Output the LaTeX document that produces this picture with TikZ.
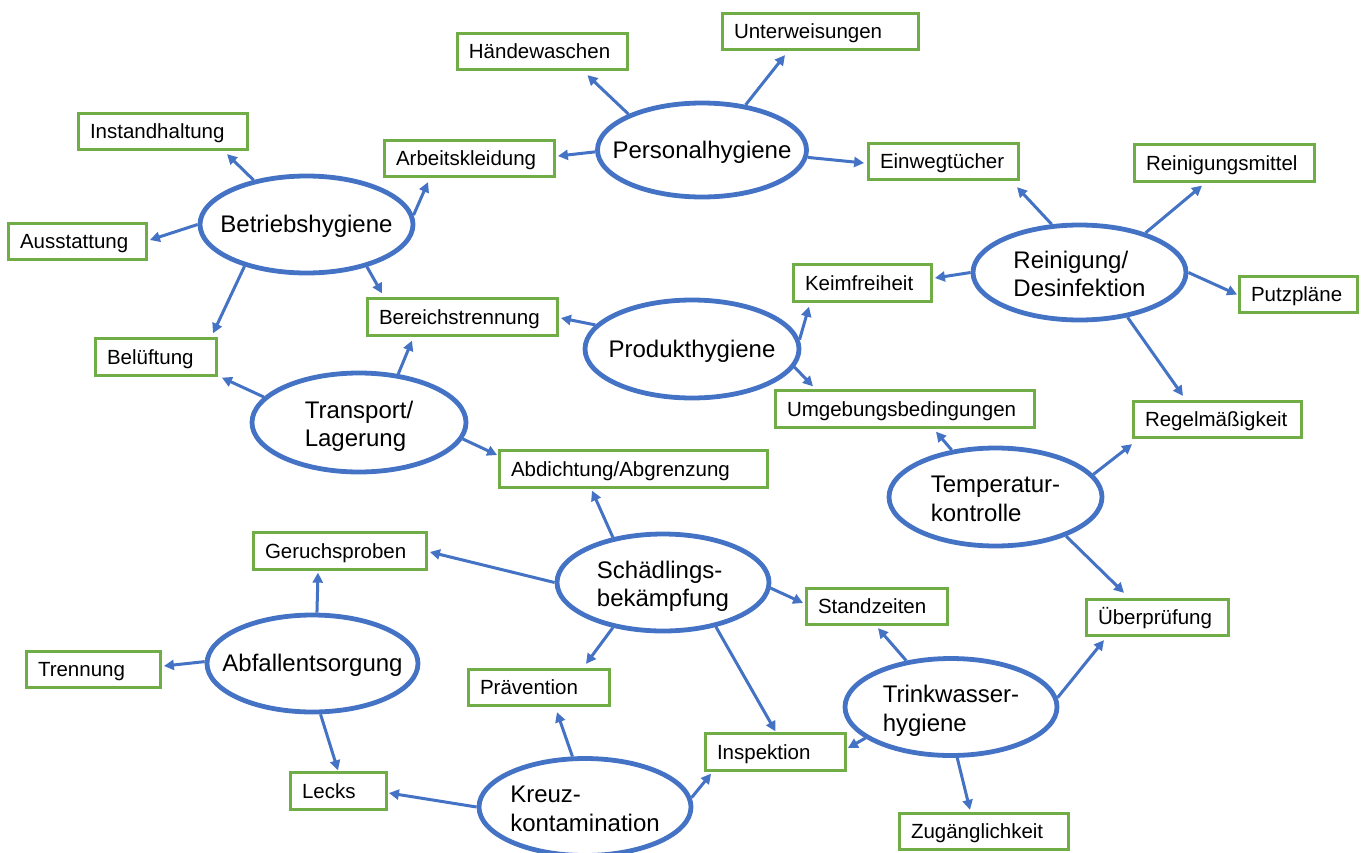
\documentclass[tikz,border=0pt]{standalone}
\usepackage{fontspec}
\setmainfont{Liberation Sans}
\usetikzlibrary{shapes.geometric,arrows.meta}
\definecolor{eblue}{HTML}{4472C4}
\definecolor{bgreen}{HTML}{70AD47}
\begin{document}
\begin{tikzpicture}[x=1pt,y=-1pt,
  ell/.style={ellipse, draw=eblue, line width=4.8pt, fill=white, inner sep=-60pt, align=left,
    font=\fontsize{24}{28.5}\selectfont},
  ellone/.style={ell, text height=20pt, text depth=4pt},
  elltwo/.style={ell, text height=50pt, text depth=2pt},
  box/.style={draw=bgreen, line width=2.8pt, fill=white, minimum height=36.5pt, inner xsep=11.5pt,
    inner ysep=0pt, text height=18pt, text depth=4pt, align=left,
    font=\fontsize{20.5}{24}\selectfont,
    execute at begin node={\hyphenpenalty=10000\exhyphenpenalty=10000}},
  arr/.style={draw=eblue, line width=3pt, -{Triangle[length=10pt,width=10pt]}}]
\useasboundingbox (0,0) rectangle (1363,852);
\fill[white] (0,0) rectangle (1363,852);

% ellipses
\node[ellone, minimum width=209pt, minimum height=94pt] (ph) at (702,150) {Personalhygiene};
\node[ellone, minimum width=213pt, minimum height=97pt] (bh) at (306.5,224.5) {Betriebshygiene};
\node[elltwo, minimum width=213pt, minimum height=95pt] (rd) at (1079.5,272.5) {Reinigung/\\Desinfektion};
\node[ellone, minimum width=214pt, minimum height=98pt] (pd) at (692,349) {Produkthygiene};
\node[elltwo, minimum width=214pt, minimum height=99pt] (tl) at (359,422.5) {Transport/\\Lagerung};
\node[elltwo, minimum width=213pt, minimum height=98pt] (tk) at (995.5,497) {Temperatur-\\kontrolle};
\node[elltwo, minimum width=212pt, minimum height=97pt] (sb) at (663,582.5) {Schädlings-\\bekämpfung};
\node[ellone, minimum width=211pt, minimum height=97pt] (ae) at (312.5,663.5) {Abfallentsorgung};
\node[elltwo, minimum width=212pt, minimum height=97pt] (tw) at (951,707) {Trinkwasser-\\hygiene};
\node[elltwo, minimum width=212pt, minimum height=97pt] (kk) at (585,807) {Kreuz-\\kontamination};

% boxes
\node[box, text width=147pt] (hw) at (542.4,51.5) {Händewaschen};
\node[box, text width=173pt] (uw) at (820.5,31.5) {Unterweisungen};
\node[box, text width=146pt] (ih) at (163,131.5) {Instandhaltung};
\node[box, text width=147pt] (ak) at (469.5,158.5) {Arbeitskleidung};
\node[box, text width=127pt] (ew) at (943.5,161.5) {Einwegtücher};
\node[box, text width=157pt] (rm) at (1224.5,163) {Reinigungsmittel};
\node[box, text width=115pt] (as) at (77.5,241.5) {Ausstattung};
\node[box, text width=115pt] (kf) at (862.5,283) {Keimfreiheit};
\node[box, text width=95pt] (pp) at (1298.5,294.5) {Putzpläne};
\node[box, text width=167pt] (bt) at (462.5,317) {Bereichstrennung};
\node[box, text width=98pt] (bl) at (156,357) {Belüftung};
\node[box, text width=236pt] (ub) at (905,409) {Umgebungsbedingungen};
\node[box, text width=145pt] (rg) at (1217.5,419.5) {Regelmäßigkeit};
\node[box, text width=245pt] (ab) at (633.5,469) {Abdichtung/Abgrenzung};
\node[box, text width=150pt] (gp) at (340,551) {Geruchsproben};
\node[box, text width=118pt] (sz) at (877,606.5) {Standzeiten};
\node[box, text width=119pt] (up) at (1157.5,617.5) {Überprüfung};
\node[box, text width=111pt] (tr) at (93.5,669.5) {Trennung};
\node[box, text width=118pt] (pv) at (539,687.5) {Prävention};
\node[box, text width=117pt] (ip) at (775.5,752) {Inspektion};
\node[box, text width=73pt] (lk) at (338.5,791) {Lecks};
\node[box, text width=146pt] (zg) at (984,831.5) {Zugänglichkeit};

% connectors
\draw[arr] (ph.154) -- ([shift={(45,4)}]hw.south);
\draw[arr] (ph.46) -- ([shift={(-35.5,4)}]uw.south);
\draw[arr] (ph.181) -- ([shift={(2,-2.5)}]ak.east);
\draw[arr] (ph.356) -- ([shift={(-3,1.5)}]ew.west);
\draw[arr] (bh.140) -- ([shift={(64,3)}]ih.south);
\draw[arr] (bh.5) -- ([shift={(-41.5,4)}]ak.south);
\draw[arr] (bh.180) -- ([shift={(2,-1.5)}]as.east);
\draw[arr] (bh.214) -- ([shift={(57,-4)}]bl.north);
\draw[arr] (bh.325) -- ([shift={(-80.5,-4)}]bt.north);
\draw[arr] (rd.120) -- ([shift={(73.5,6)}]ew.south);
\draw[arr] (rd.31) -- ([shift={(-22.5,3)}]rm.south);
\draw[arr] (rd.180) -- ([shift={(2,-5)}]kf.east);
\draw[arr] (rd.0) -- ([shift={(-1,0)}]pp.west);
\draw[arr] (rd.317) -- ([shift={(-34.5,-4)}]rg.north);
\draw[arr] (pd.166) -- ([shift={(2,1)}]bt.east);
\draw[arr] (pd.5) -- ([shift={(-53.5,4)}]kf.south);
\draw[arr] (pd.350) -- ([shift={(-92,-3)}]ub.north);
\draw[arr] (tl.165) -- ([shift={(4,1)}]bl.south east);
\draw[arr] (tl.51) -- ([shift={(-50.5,4)}]bt.south);
\draw[arr] (tl.351) -- ([shift={(-1,-14)}]ab.west);
\draw[arr] (tk.133) -- ([shift={(31,3)}]ub.south);
\draw[arr] (tk.13) -- ([shift={(0,5)}]rg.south west);
\draw[arr] (tk.331) -- ([shift={(-33.5,-5)}]up.north);
\draw[arr] (sb.138) -- ([shift={(-41.5,2)}]ab.south);
\draw[arr] (sb.180) -- ([shift={(2,1)}]gp.east);
\draw[arr] (sb.357) -- ([shift={(-2,-3.5)}]sz.west);
\draw[arr] (sb.222) -- ([shift={(47,-4)}]pv.north);
\draw[arr] (sb.320) -- ([shift={(0,-1)}]ip.north);
\draw[arr] (ae.85) -- ([shift={(-22,2)}]gp.south);
\draw[arr] (ae.179) -- ([shift={(2,-3.5)}]tr.east);
\draw[arr] (ae.279) -- ([shift={(-0.5,-1)}]lk.north);
\draw[arr] (tw.134) -- ([shift={(1,2)}]sz.south);
\draw[arr] (tw.5) -- ([shift={(-53.5,3)}]up.south);
\draw[arr] (tw.200) -- ([shift={(1,-4)}]ip.east);
\draw[arr] (tw.277) -- ([shift={(-14,-2)}]zg.north);
\draw[arr] (kk.104) -- ([shift={(18,5)}]pv.south);
\draw[arr] (kk.180) -- ([shift={(1,2)}]lk.east);
\draw[arr] (kk.5) -- ([shift={(7,2)}]ip.south west);
\end{tikzpicture}
\end{document}
